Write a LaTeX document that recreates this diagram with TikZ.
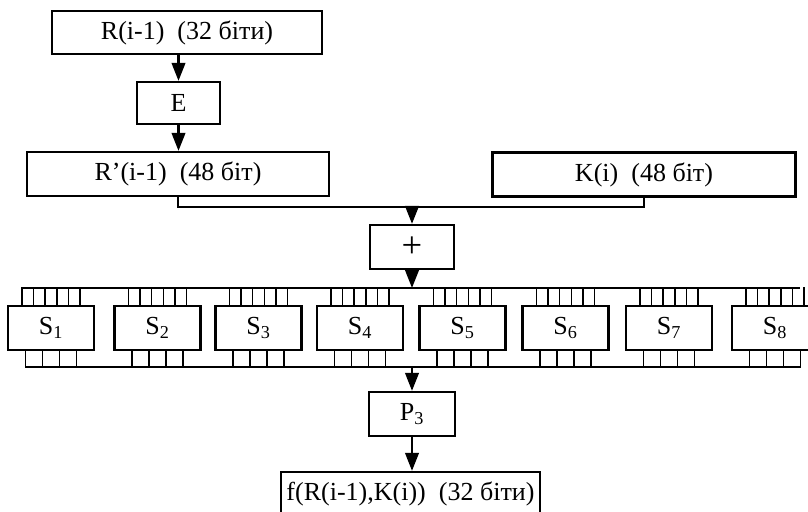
\documentclass[tikz,border=0pt]{standalone}
\usepackage{fontspec}
\setmainfont{Liberation Serif}
\usetikzlibrary{arrows.meta}

\begin{document}
\begin{tikzpicture}[
  x=0.025cm, y=0.025cm,
  font=\fontsize{18.5}{21}\selectfont,
  box/.style={draw, rectangle, line width=1.6pt, minimum height=1.1cm, inner sep=1pt, align=center},
  sbox/.style={box, minimum width=2.15cm},
  arrow/.style={-{Triangle[length=0.45cm, width=0.34cm]}, line width=1.5pt},
  bus/.style={line width=1.6pt},
  pin/.style={line width=1.1pt},
]
\useasboundingbox (0,0) rectangle (808,512);

\node[box, minimum width=6.75cm, minimum height=1.075cm] (rin) at (187,479.5) {R(i-1)~~(32 біти)};
\node[box, minimum width=2.075cm, minimum height=1.05cm] (e) at (178.5,409) {E};
\node[box, minimum width=7.55cm] (rp) at (178,338) {R'(i-1)~~(48 біт)};
\node[box, minimum width=7.575cm] (key) at (644,337.5) {K(i)~~(48 біт)};
\node[box, minimum width=2.1cm] (plus) at (412,265) {\fontsize{26}{26}\selectfont +};
\node[box, minimum width=2.15cm] (p3) at (412,98) {P\textsubscript{3}};
\node[box, minimum width=6.475cm] (res) at (410.5,18) {f(R(i-1),K(i))~~(32 біти)};

% S-boxes
\foreach \i/\x in {1/51,2/157.5,3/258.5,4/360,5/462.5,6/565.5,7/669,8/775}
  \node[sbox] (s\i) at (\x,184) {S\textsubscript{\i}};

\coordinate (join) at (412,305);
\coordinate (tbl) at (22,224);
\coordinate (tbr) at (800,224);
\coordinate (bbl) at (25,145);
\coordinate (bbr) at (800,145);

\draw[arrow] (rin.south -| e.north) -- (e.north);
\draw[arrow] (e.south) -- (e.south |- rp.north);
\draw[bus] (rp.south) -- (rp.south |- join) -- (key.south |- join) -- (key.south);
\draw[arrow] (join) -- (plus.north);
\draw[arrow] (plus.south) -- (plus.south |- tbl);

% buses and pins
\draw[bus] (tbl) -- (tbr);
\draw[bus] (bbl) -- (bbr);
\foreach \i in {1,...,8} {
  \foreach \d in {-0.73,-0.44,-0.15,0.15,0.44,0.73}
    \draw[pin] ([xshift=\d cm]s\i.north) -- ++(0,18);
  \foreach \d in {-0.64,-0.21,0.21,0.64}
    \draw[pin] ([xshift=\d cm]s\i.south) -- ++(0,-17);
}

\draw[arrow] (bbl -| p3.north) -- (p3.north);
\draw[arrow] (p3.south) -- (res.north -| p3.south);
\end{tikzpicture}
\end{document}
